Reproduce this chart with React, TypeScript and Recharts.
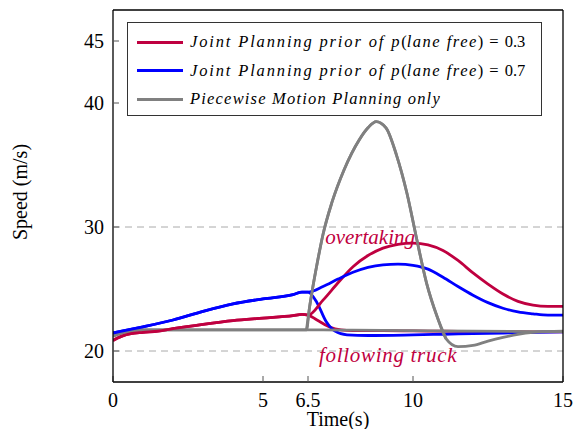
import React from 'react';
import {
  LineChart,
  Line,
  XAxis,
  YAxis,
  ReferenceLine,
  ReferenceDot,
} from 'recharts';

// x ticks / y ticks
const xTicks = [0, 5, 6.5, 10, 15];
const yTicks = [20, 30, 40, 45];
const gridValues = [20, 30];

// p(lane free) = 0.3, common part before the decision at 6.5 s
const redSharedT = [0, 0.3, 0.6, 1, 1.5, 2, 3, 4, 5, 6, 6.3, 6.5];
const redSharedV = [20.85, 21.2, 21.4, 21.5, 21.6, 21.8, 22.15, 22.45, 22.65, 22.85, 22.95, 22.9];
// overtaking branch
const redUpT = [7, 7.5, 8, 8.5, 9, 9.5, 10, 10.5, 11, 11.5, 12, 12.5, 13, 13.5, 14, 14.5, 15];
const redUpV = [24.1, 25.5, 26.8, 27.7, 28.3, 28.6, 28.7, 28.55, 28.1, 27.3, 26.3, 25.4, 24.6, 24.0, 23.7, 23.6, 23.6];
// following branch
const redDownT = [6.8, 7.2, 7.6, 8, 9, 10, 11, 12, 13, 14, 15];
const redDownV = [22.5, 21.95, 21.7, 21.65, 21.64, 21.62, 21.6, 21.58, 21.56, 21.55, 21.55];

// p(lane free) = 0.7
const blueSharedT = [0, 0.5, 1, 2, 3, 4, 5, 6, 6.3, 6.5];
const blueSharedV = [21.45, 21.7, 21.95, 22.5, 23.2, 23.8, 24.2, 24.55, 24.75, 24.75];
const blueUpT = [7, 7.5, 8, 8.5, 9, 9.5, 10, 10.5, 11, 11.5, 12, 12.5, 13, 13.5, 14, 14.5, 15];
const blueUpV = [25.2, 25.8, 26.35, 26.75, 26.95, 27.0, 26.9, 26.6, 25.95, 25.2, 24.5, 23.9, 23.45, 23.15, 23.0, 22.9, 22.9];
const blueDownT = [6.8, 7.1, 7.4, 7.8, 8.5, 10, 11, 12, 13, 14, 15];
const blueDownV = [23.9, 22.4, 21.6, 21.3, 21.25, 21.3, 21.35, 21.4, 21.45, 21.5, 21.55];

// piecewise motion planning
const grayT = [0, 0.3, 0.6, 1, 2, 4, 6, 6.45, 6.55, 6.65, 6.8, 7.0, 7.3, 7.7, 8.2, 8.5, 8.77, 9.1, 9.45, 9.8, 10.1, 10.45, 10.8, 11.1, 11.5, 12, 12.5, 13, 13.5, 14, 15];
const grayV = [21.2, 21.45, 21.6, 21.7, 21.7, 21.7, 21.7, 21.7, 23.5, 25.0, 27.0, 29.4, 32.0, 34.6, 37.0, 38.0, 38.5, 38.0, 35.8, 32.7, 29.3, 25.5, 22.8, 21.0, 20.35, 20.45, 20.8, 21.1, 21.35, 21.5, 21.6];
// flat gray branch (stays behind the truck)
const grayFlatT = [6.45, 7, 8, 10, 12, 14, 15];
const grayFlatV = [21.7, 21.7, 21.68, 21.64, 21.6, 21.57, 21.56];

const RED = '#BF0040';
const BLUE = '#0000FF';
const GRAY = '#808080';
const FONT = "'Liberation Serif', 'Times New Roman', serif";

const pts = (t: number[], v: number[]) => t.map((x, i) => ({ t: x, v: v[i] }));

const redUpper = [...pts(redSharedT, redSharedV), ...pts(redUpT, redUpV)];
const redLower = [...pts(redSharedT, redSharedV), ...pts(redDownT, redDownV)];
const blueUpper = [...pts(blueSharedT, blueSharedV), ...pts(blueUpT, blueUpV)];
const blueLower = [...pts(blueSharedT, blueSharedV), ...pts(blueDownT, blueDownV)];
const gray = pts(grayT, grayV);
const grayFlat = [...gray.filter((d) => d.t < 6.45), ...pts(grayFlatT, grayFlatV)];

const legendItems = [
  { color: RED, kind: 'joint', p: '0.3' },
  { color: BLUE, kind: 'joint', p: '0.7' },
  { color: GRAY, kind: 'piecewise', p: '' },
];

const tickStyle = { fill: '#000', fontSize: 20, fontFamily: FONT };

const YLabel = (props: any) => {
  const { viewBox } = props;
  const x = viewBox.x + 20;
  const y = viewBox.y + viewBox.height / 2 - 4;
  return (
    <text x={x} y={y} transform={`rotate(-90 ${x} ${y})`} textAnchor="middle" dominantBaseline="central"
      fontFamily={FONT} fontSize={20} fill="#000">
      Speed (m/s)
    </text>
  );
};

const XLabel = (props: any) => {
  const { viewBox } = props;
  return (
    <text x={viewBox.x + viewBox.width / 2} y={viewBox.y + 37} textAnchor="middle" dominantBaseline="central"
      fontFamily={FONT} fontSize={20} fill="#000">
      Time(s)
    </text>
  );
};

const LegendBox = () => (
  <div style={{
    position: 'absolute', left: 127, top: 22, width: 413, height: 92,
    border: '1.3px solid #333', background: '#fff', fontFamily: FONT, color: '#000',
  }}>
    {legendItems.map((it, i) => (
      <div key={i} style={{ position: 'absolute', left: 9, top: 8 + i * 28.5, height: 22, display: 'flex', alignItems: 'center', whiteSpace: 'nowrap', fontFamily: FONT }}>
        <div style={{ width: 46, height: 3, background: it.color, marginRight: 7 }} />
        {it.kind === 'joint' ? (
          <span style={{ fontSize: 16.5, fontFamily: FONT }}>
            <i style={{ letterSpacing: 1.85 }}>Joint Planning prior of p</i>
            <span>(</span>
            <i style={{ letterSpacing: 1.5 }}>lane free</i>
            <span>)</span>
            <span style={{ margin: '0 6px' }}>=</span>
            <span>{it.p}</span>
          </span>
        ) : (
          <i style={{ fontSize: 16.5, letterSpacing: 1.2, fontFamily: FONT }}>Piecewise Motion Planning only</i>
        )}
      </div>
    ))}
  </div>
);

export default function App() {
  return (
    <div style={{ position: 'absolute', left: 0, top: 0, width: 580, height: 429, background: '#fff' }}>
      <LineChart width={580} height={429} margin={{ top: 0, right: 0, bottom: 0, left: 0 }}>
        <XAxis xAxisId="b" dataKey="t" type="number" domain={[0, 15]} ticks={xTicks}
          height={47} tickSize={-6} tickMargin={16.5} tick={tickStyle}
          axisLine={{ stroke: '#000', strokeWidth: 1.3 }} tickLine={{ stroke: '#555' }}
          label={<XLabel />} allowDataOverflow />
        <XAxis xAxisId="t" orientation="top" dataKey="t" type="number" domain={[0, 15]} ticks={xTicks}
          height={10} tickSize={-6} tick={false}
          axisLine={{ stroke: '#000', strokeWidth: 1.3 }} tickLine={{ stroke: '#555' }} />
        <YAxis yAxisId="l" type="number" domain={[17.5, 47.5]} ticks={yTicks} width={113}
          tickSize={-6} tickMargin={15} tick={tickStyle}
          axisLine={{ stroke: '#000', strokeWidth: 1.3 }} tickLine={{ stroke: '#555' }}
          label={<YLabel />} allowDataOverflow />
        <YAxis yAxisId="r" orientation="right" type="number" domain={[17.5, 47.5]} ticks={yTicks} width={17}
          tickSize={-6} tick={false}
          axisLine={{ stroke: '#000', strokeWidth: 1.3 }} tickLine={{ stroke: '#555' }} />

        {gridValues.map((g) => (
          <ReferenceLine key={g} xAxisId="b" yAxisId="l" y={g} stroke="#aaa" strokeWidth={1} strokeDasharray="7 5" />
        ))}

        <Line xAxisId="b" yAxisId="l" data={redLower} dataKey="v" type="monotone" stroke={RED} strokeWidth={2.8} dot={false} isAnimationActive={false} />
        <Line xAxisId="b" yAxisId="l" data={blueLower} dataKey="v" type="monotone" stroke={BLUE} strokeWidth={2.8} dot={false} isAnimationActive={false} />
        <Line xAxisId="b" yAxisId="l" data={grayFlat} dataKey="v" type="monotone" stroke={GRAY} strokeWidth={2.8} dot={false} isAnimationActive={false} />
        <Line xAxisId="b" yAxisId="l" data={gray} dataKey="v" type="monotone" stroke={GRAY} strokeWidth={2.8} dot={false} isAnimationActive={false} />
        <Line xAxisId="b" yAxisId="l" data={redUpper} dataKey="v" type="monotone" stroke={RED} strokeWidth={2.8} dot={false} isAnimationActive={false} />
        <Line xAxisId="b" yAxisId="l" data={blueUpper} dataKey="v" type="monotone" stroke={BLUE} strokeWidth={2.8} dot={false} isAnimationActive={false} />
        <Line xAxisId="b" yAxisId="l" data={gray.filter((d) => d.t >= 6.45 && d.t <= 11.1)} dataKey="v" type="monotone" stroke={GRAY} strokeWidth={2.8} dot={false} isAnimationActive={false} />

        <ReferenceDot xAxisId="b" yAxisId="l" x={8.57} y={29.25} r={0} stroke="none"
          label={{ value: 'overtaking', position: 'center', fill: RED, fontSize: 21, fontStyle: 'italic', fontFamily: FONT }} />
        <ReferenceDot xAxisId="b" yAxisId="l" x={9.17} y={19.7} r={0} stroke="none"
          label={{ value: 'following truck', position: 'center', fill: RED, fontSize: 21, fontStyle: 'italic', fontFamily: FONT, letterSpacing: 0.7 }} />
      </LineChart>
      <LegendBox />
    </div>
  );
}
